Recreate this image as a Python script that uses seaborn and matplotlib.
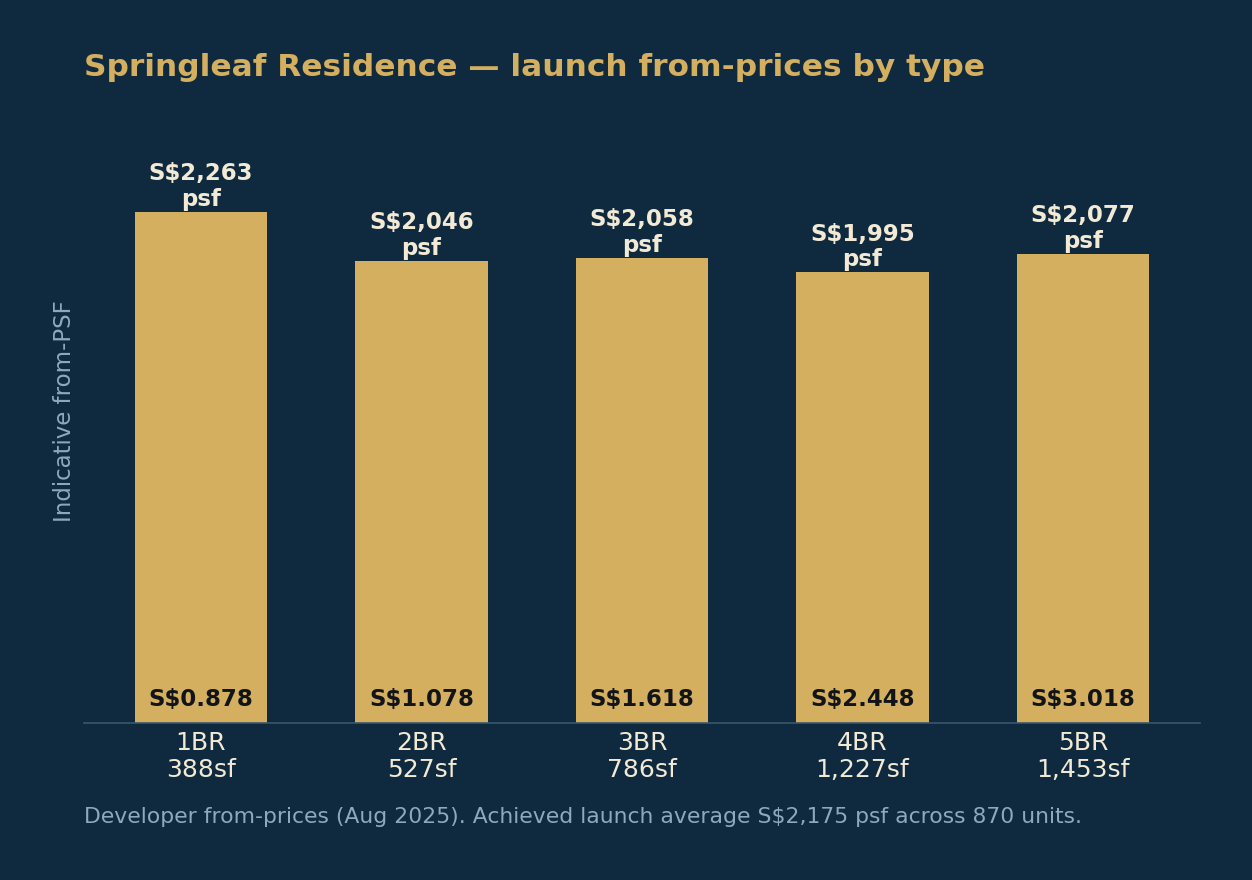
import matplotlib
matplotlib.use("Agg")
import matplotlib.pyplot as plt
import seaborn as sns
import pandas as pd

unit_types = ["1BR", "2BR", "3BR", "4BR", "5BR"]
unit_sizes = ["388sf", "527sf", "786sf", "1,227sf", "1,453sf"]
psf_values = [2263, 2046, 2058, 1995, 2077]
quantum_labels = ["S$0.878", "S$1.078", "S$1.618", "S$2.448", "S$3.018"]

BG = "#0f2a3f"
GOLD = "#d4af5f"
CREAM = "#f3ead6"
MUTED = "#8ea8bd"

sns.set_theme(style="white")
plt.rcParams["font.family"] = ["DejaVu Sans"]

df = pd.DataFrame({
    "label": [f"{t}\n{s}" for t, s in zip(unit_types, unit_sizes)],
    "psf": psf_values,
})

fig = plt.figure(figsize=(12.52, 8.8), dpi=100, facecolor=BG)
ax = fig.add_axes([84/1252, 1 - 723/880, (1200-84)/1252, (723-99)/880])
ax.set_facecolor(BG)

sns.barplot(data=df, x="label", y="psf", color=GOLD, width=0.6, ax=ax,
            saturation=1, edgecolor="none")

ax.set_ylim(0, max(psf_values) * 1.22)
ax.set_xlim(-0.53, len(psf_values) - 1 + 0.53)

for i, (v, q) in enumerate(zip(psf_values, quantum_labels)):
    ax.annotate(f"S${v:,}\npsf", xy=(i, v), xytext=(0, 0.6), textcoords="offset points",
                ha="center", va="bottom", fontsize=16.5, fontweight="bold",
                color=CREAM, linespacing=1.15)
    ax.annotate(q, xy=(i, 0), xytext=(0, 8.5), textcoords="offset points",
                ha="center", va="bottom", fontsize=16.5, fontweight="bold",
                color="#111418")

for s in ["top", "right", "left"]:
    ax.spines[s].set_visible(False)
ax.spines["bottom"].set_color("#3a5670")
ax.spines["bottom"].set_linewidth(1.2)

ax.set_yticks([])
ax.set_xlabel("")
ax.set_ylabel("Indicative from-PSF", color=MUTED, fontsize=16.5, labelpad=6)
ax.tick_params(axis="x", length=0, pad=6, labelsize=18, labelcolor=CREAM)
for t in ax.get_xticklabels():
    t.set_linespacing(1.12)

fig.text(84/1252, 1 - 67/880, "Springleaf Residence \u2014 launch from-prices by type",
         ha="left", va="center", fontsize=22.5, fontweight="bold", color=GOLD)
fig.text(84/1252, 1 - 817/880,
         "Developer from-prices (Aug 2025). Achieved launch average S$2,175 psf across 870 units.",
         ha="left", va="center", fontsize=15.75, color=MUTED)

fig.savefig("out.png", dpi=100, facecolor=BG)
